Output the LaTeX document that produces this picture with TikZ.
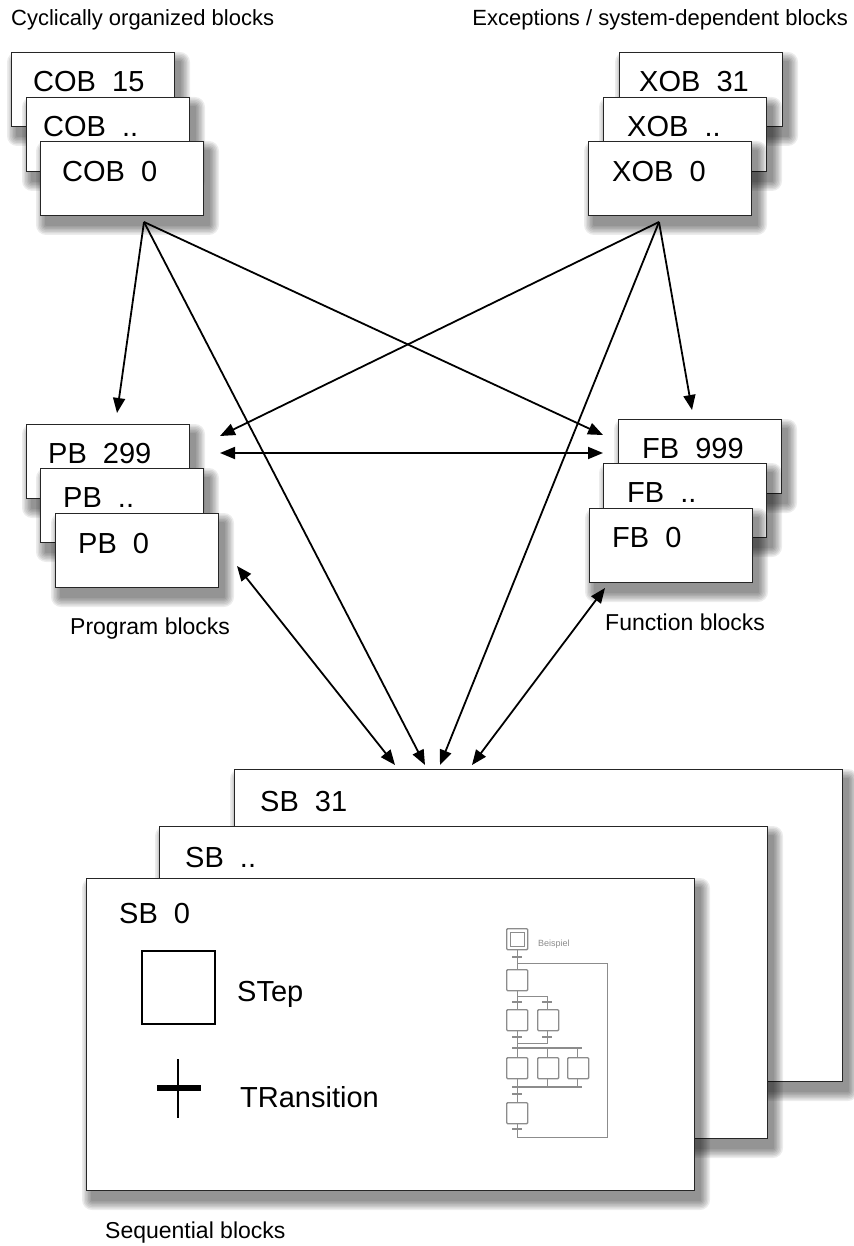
\documentclass[tikz,border=0pt]{standalone}
\usepackage{fontspec}
\setmainfont{Liberation Sans}
\usetikzlibrary{arrows.meta}
\newcommand\myblk[6]{% name, x, y, w, h, unused
  \foreach \r in {10,8.5,7,5.5,4,2.5,1} {
    \fill[black, opacity=0.075, rounded corners=\r pt]
      (#2+6-\r, #3+10-\r) rectangle (#2+#4+6+\r, #3+#5+10+\r);
  }
  \node[blockbox, minimum width=#4pt, minimum height=#5pt] (#1) at (#2,#3) {};
}
\begin{document}
\begin{tikzpicture}[x=1pt,y=-1pt,
  blockbox/.style={draw=black!85, line width=1.3pt, fill=white, anchor=north west, inner sep=0pt},
  boxlabel/.style={anchor=base west, inner sep=0pt, font=\fontsize{29}{33}\selectfont},
  caption/.style={anchor=base west, inner sep=0pt, font=\fontsize{23}{27}\selectfont},
  title/.style={anchor=base west, inner sep=0pt, font=\fontsize{22}{26}\selectfont},
  conn/.style={line width=1.8pt, -{Triangle[length=15pt,width=12pt]}},
  dconn/.style={line width=1.8pt, {Triangle[length=15pt,width=12pt]}-{Triangle[length=15pt,width=12pt]}},
  sfc/.style={draw=black!45, line width=1pt},
  sfcstep/.style={draw=black!45, line width=1.4pt, fill=white, rounded corners=1pt, minimum size=21pt, inner sep=0pt, anchor=north west},
  sfcbar/.style={draw=black!45, line width=2.2pt},
]
\useasboundingbox (0,0) rectangle (853,1246);

% titles
\node[title] (t1) at (11,26) {Cyclically organized blocks};
\node[title, anchor=base east] (t2) at (848,26) {Exceptions / system-dependent blocks};

% COB stack
\myblk{cob15}{11}{52}{163}{74}{}
\node[boxlabel] (cob15t) at (33,92) {COB\ \ 15};
\myblk{cobdd}{26}{97}{163}{74}{}
\node[boxlabel] (cobddt) at (43,137) {COB\ \ ..};
\myblk{cob0}{40}{141}{163}{74}{}
\node[boxlabel] (cob0t) at (62,182) {COB\ \ 0};

% XOB stack
\myblk{xob31}{619}{52}{163}{74}{}
\node[boxlabel] (xob31t) at (639,92) {XOB\ \ 31};
\myblk{xobdd}{603}{97}{163}{74}{}
\node[boxlabel] (xobddt) at (627,137) {XOB\ \ ..};
\myblk{xob0}{588}{141}{163}{74}{}
\node[boxlabel] (xob0t) at (612,182) {XOB\ \ 0};

% PB stack
\myblk{pb299}{26}{424}{163}{74}{}
\node[boxlabel] (pb299t) at (48,463) {PB\ \ 299};
\myblk{pbdd}{40}{468}{163}{74}{}
\node[boxlabel] (pbddt) at (63,507) {PB\ \ ..};
\myblk{pb0}{55}{513}{163}{74}{}
\node[boxlabel] (pb0t) at (78,553) {PB\ \ 0};
\node[caption] (pbcap) at (70,634) {Program blocks};

% FB stack
\myblk{fb999}{618}{419}{163}{74}{}
\node[boxlabel] (fb999t) at (642,458) {FB\ \ 999};
\myblk{fbdd}{603}{463}{163}{74}{}
\node[boxlabel] (fbddt) at (627,502) {FB\ \ ..};
\myblk{fb0}{589}{508}{163}{74}{}
\node[boxlabel] (fb0t) at (612,547) {FB\ \ 0};
\node[caption] (fbcap) at (605,630) {Function blocks};

% SB stack
\myblk{sb31}{234}{769}{608}{312}{}
\node[boxlabel] (sb31t) at (260,811) {SB\ \ 31};
\myblk{sbdd}{159}{826}{608}{312}{}
\node[boxlabel] (sbddt) at (185,867) {SB\ \ ..};
\myblk{sb0}{86}{878}{608}{312}{}
\node[boxlabel] (sb0t) at (119,923) {SB\ \ 0};
\node[caption] (sbcap) at (105,1238) {Sequential blocks};

% step and transition symbols
\node[draw=black, line width=1.6pt, minimum size=73pt, inner sep=0pt, anchor=north west] (stepsym) at (141,950) {};
\node[boxlabel] (stept) at (237,1001) {STep};
\coordinate (trtop) at (178,1059);
\coordinate (trbot) at (178,1118);
\coordinate (trl) at (157,1088);
\coordinate (trr) at (201,1088);
\draw[line width=2pt] (trtop) -- (trbot);
\draw[line width=6pt] (trl) -- (trr);
\node[boxlabel] (trt) at (240,1107) {TRansition};

% small SFC example
\coordinate (loopr) at (607,963);
\coordinate (loopj) at (517,963);
\coordinate (loopb) at (607,1137);
\coordinate (loopbl) at (517,1137);
\draw[sfc] (517,949) -- (517,969);
\draw[sfc] (loopbl) -- (loopb) -- (loopr) -- (loopj);
\draw[sfc] (517,991) -- (517,1009);
\draw[sfc] (517,996) -- (547,996) -- (547,1009);
\draw[sfc] (517,1030) -- (517,1048);
\draw[sfc] (547,1030) -- (547,1043) -- (517,1043);
\draw[sfc] (517,1048) -- (517,1057) (547,1048) -- (547,1057) (577,1048) -- (577,1057);
\draw[sfc] (517,1078) -- (517,1102) (547,1078) -- (547,1087) (577,1078) -- (577,1087);
\draw[sfc] (517,1123) -- (517,1137);
\foreach \x/\y in {517/957,517/1002,547/1002,517/1037,547/1037,517/1094,517/1129}
  \draw[sfcbar, line width=1.6pt] (\x-5,\y) -- (\x+5,\y);
\draw[sfcbar] (512,1048) -- (582,1048);
\draw[sfcbar] (512,1087) -- (582,1087);
\node[sfcstep] (st0) at (506,928) {};
\node[draw=black!45, line width=1pt, minimum size=14pt, inner sep=0pt] (st0i) at (st0.center) {};
\node[anchor=base west, inner sep=0pt, text=black!45, font=\fontsize{9}{10}\selectfont] (beisp) at (538,946) {Beispiel};
\node[sfcstep] (st1) at (506,969) {};
\node[sfcstep] (st2a) at (506,1009) {};
\node[sfcstep] (st2b) at (537,1009) {};
\node[sfcstep] (st3a) at (506,1057) {};
\node[sfcstep] (st3b) at (537,1057) {};
\node[sfcstep] (st3c) at (567,1057) {};
\node[sfcstep] (st4) at (506,1102) {};

% connector end points
\coordinate (cobapex) at (144,222);
\coordinate (xobapex) at (659,222);
\coordinate (pbtop) at (117,413);
\coordinate (pbright1) at (220,436);
\coordinate (pbright2) at (220,453);
\coordinate (fbleft1) at (603,435);
\coordinate (fbleft2) at (603,453);
\coordinate (fbtop) at (692,410);
\coordinate (pbcorner) at (237,566);
\coordinate (fbcorner) at (605,588);
\coordinate (sbin1) at (395,765);
\coordinate (sbin2) at (425,765);
\coordinate (sbin3) at (440,765);
\coordinate (sbin4) at (472,765);

\draw[conn] (cobapex) -- (pbtop);
\draw[conn] (cobapex) -- (sbin2);
\draw[conn] (cobapex) -- (fbleft1);
\draw[conn] (xobapex) -- (pbright1);
\draw[conn] (xobapex) -- (sbin3);
\draw[conn] (xobapex) -- (fbtop);
\draw[dconn] (pbright2) -- (fbleft2);
\draw[dconn] (pbcorner) -- (sbin1);
\draw[dconn] (fbcorner) -- (sbin4);
\end{tikzpicture}
\end{document}
